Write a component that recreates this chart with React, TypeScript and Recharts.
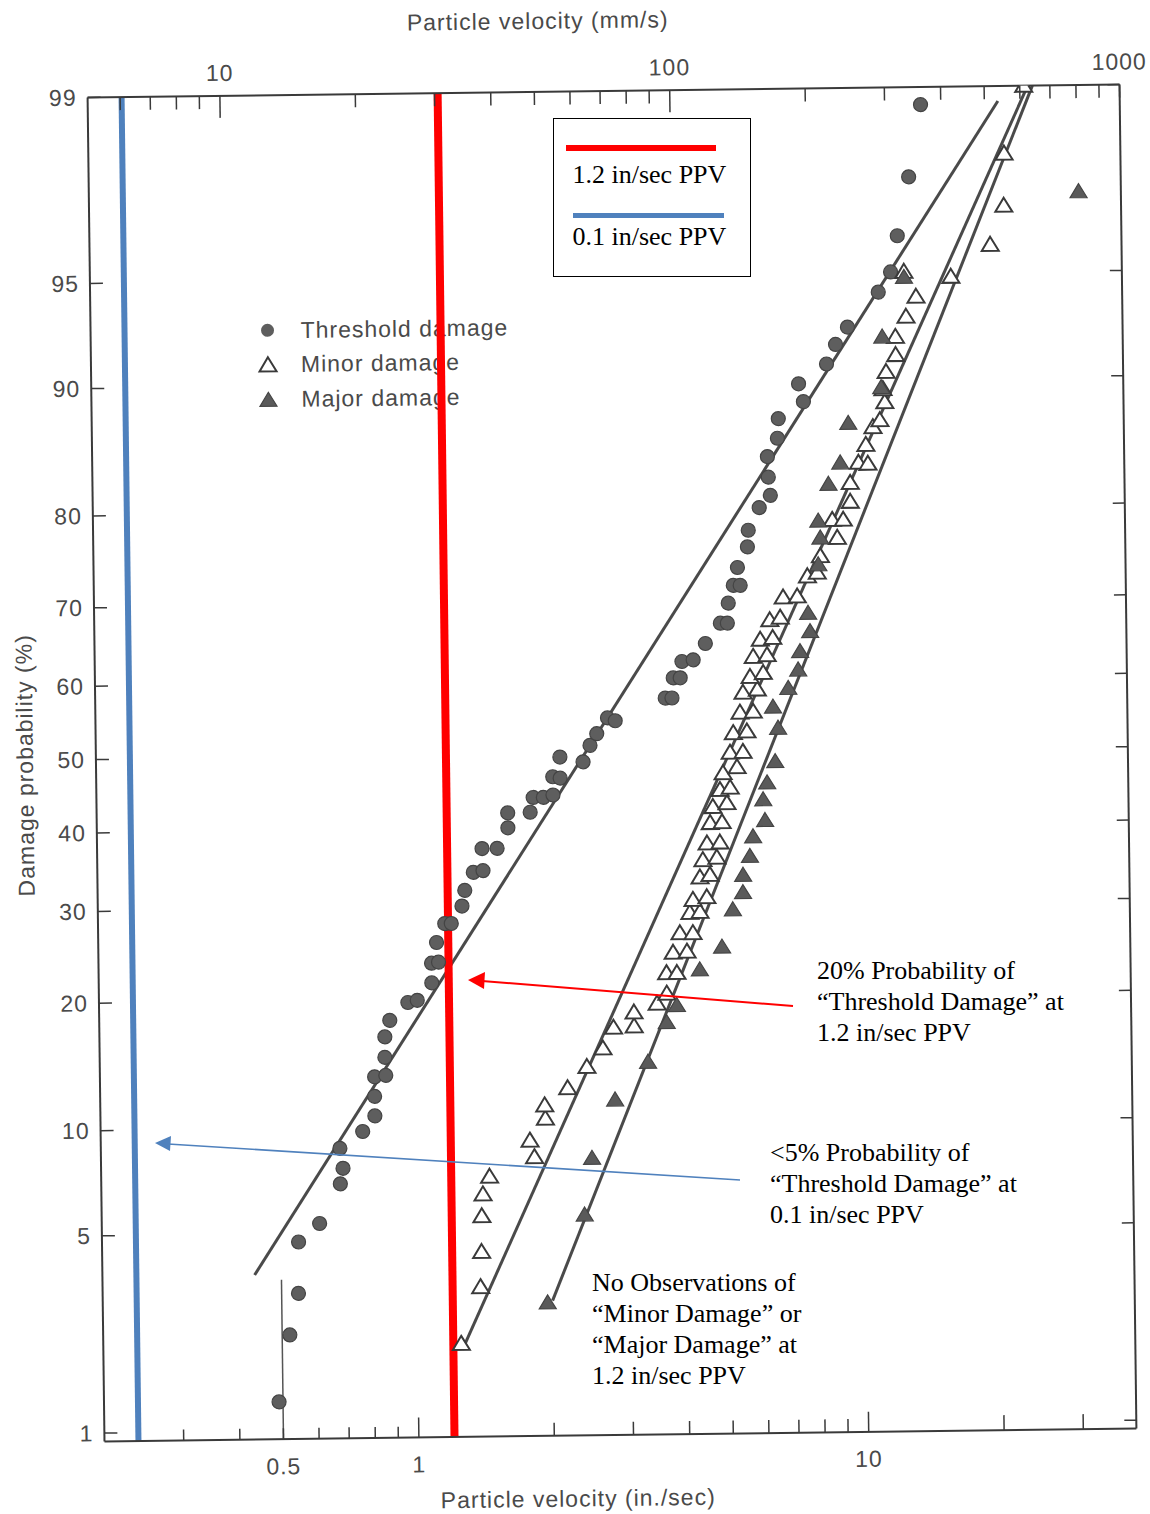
import React from "react";
import { ScatterChart, Scatter, XAxis, YAxis, ReferenceLine, Customized } from "recharts";

const INK = "#4a4a4a";
const FRAME = "#3a3a3a";
const SCAN_FONT = "'Liberation Sans', Arial, sans-serif";
const NOTE_FONT = "'Liberation Serif', 'Times New Roman', serif";
const RED = "#ff0000";
const BLUE = "#4f81bd";

// axis ticks
const inSecTicks = [0.3, 0.4, 0.5, 0.6, 0.7, 0.8, 0.9, 1, 2, 3, 4, 5, 6, 7, 8, 9, 10, 20, 30];
const inSecLabels = [0.5, 1, 10];
const mmTicks = [6, 7, 8, 9, 10, 20, 30, 40, 50, 60, 70, 80, 90, 100, 200, 300, 400, 500, 600, 700, 800, 900, 1000];
const mmLabels = [10, 100, 1000];
const probabilityTicks = [1, 5, 10, 20, 30, 40, 50, 60, 70, 80, 90, 95, 99];
// the printed frame edges (labelled 1 and 99 on the paper)
const probabilityFloor = 0.926;
const probabilityCeiling = 98.89;

// observations: [particle velocity in/sec, damage probability %]
const thresholdDamage: [number, number][] = [
  [0.49, 1.3], [0.52, 2.3], [0.545, 3.2], [0.547, 4.7], [0.61, 5.35], [0.68, 7.0], [0.69, 7.75],
  [0.68, 8.8], [0.765, 9.75], [0.815, 10.7], [0.815, 12.0], [0.816, 13.4], [0.864, 13.5],
  [0.861, 14.9], [0.862, 16.6], [0.885, 18.05], [0.972, 19.7], [1.02, 19.9], [1.1, 21.6],
  [1.1, 23.65], [1.14, 23.75], [1.13, 25.9], [1.18, 28.05], [1.22, 28.05], [1.29, 30.1],
  [1.31, 32.0], [1.37, 34.25], [1.44, 34.45], [1.435, 37.3], [1.55, 37.3], [1.64, 40.0],
  [1.64, 42.0], [1.84, 42.05], [1.87, 44.05], [1.97, 44.05], [2.07, 44.35], [2.07, 46.85],
  [2.15, 46.65], [2.15, 49.55], [2.42, 48.85], [2.51, 51.1], [2.6, 52.7], [2.75, 54.85],
  [2.86, 54.45], [3.7, 57.45], [3.83, 57.45], [3.86, 60.15], [4.0, 60.15], [4.04, 62.3],
  [4.28, 62.5], [4.56, 64.6], [4.93, 67.15], [5.11, 67.15], [5.14, 69.6], [5.28, 71.7],
  [5.47, 71.7], [5.4, 73.75], [5.69, 76.0], [5.72, 77.75], [6.06, 80.0], [6.42, 81.15],
  [6.36, 82.8], [6.34, 84.55], [6.68, 86.0], [6.72, 87.45], [7.65, 88.6], [7.47, 89.75],
  [8.63, 90.9], [9.05, 91.95], [9.63, 92.8], [11.3, 94.3], [12.05, 95.05], [12.5, 96.2],
  [13.3, 97.6], [14.2, 98.7],
];

const minorDamage: [number, number][] = [
  [1.25, 2.1], [1.385, 3.3], [1.395, 4.3], [1.4, 5.55], [1.41, 6.45], [1.46, 7.25],
  [1.84, 8.2], [1.8, 9.1], [1.95, 10.4], [1.945, 11.25], [2.19, 12.4], [2.42, 13.95],
  [2.63, 15.4], [2.78, 17.15], [3.09, 17.25], [3.09, 18.5], [3.48, 19.3], [3.66, 20.25],
  [3.66, 22.3], [3.86, 22.3], [3.79, 24.45], [4.07, 24.55], [3.93, 26.6], [4.2, 26.6],
  [4.14, 28.95], [4.36, 29.05], [4.21, 30.5], [4.52, 30.8], [4.37, 33.25], [4.6, 33.55],
  [4.44, 35.45], [4.77, 35.75], [4.54, 37.6], [4.85, 37.7], [4.62, 40.3], [4.91, 40.4],
  [4.69, 42.45], [5.04, 42.95], [4.87, 44.75], [5.13, 45.05], [4.95, 47.05], [5.32, 47.85],
  [5.14, 49.85], [5.49, 49.95], [5.23, 52.55], [5.61, 52.75], [5.42, 55.35], [5.8, 55.45],
  [5.51, 58.05], [5.93, 58.45], [5.72, 60.15], [6.12, 60.65], [5.82, 62.8], [6.25, 63.0],
  [6.04, 65.0], [6.44, 65.2], [6.35, 67.45], [6.7, 67.75], [6.81, 70.2], [7.32, 70.3],
  [7.72, 72.65], [8.12, 73.05], [8.26, 74.9], [9.02, 76.85], [8.8, 78.7], [9.31, 78.7],
  [9.66, 80.45], [9.67, 82.2], [10.1, 83.95], [10.6, 83.85], [10.5, 85.4], [10.9, 86.75],
  [11.3, 87.25], [11.6, 88.5], [11.5, 89.35], [11.7, 90.4], [12.3, 91.35], [12.3, 92.3],
  [13.0, 93.25], [13.7, 94.1], [12.9, 95.05], [16.4, 94.85], [20.1, 95.9], [21.6, 96.95],
  [21.7, 98.0], [24.1, 98.89],
];

const majorDamage: [number, number][] = [
  [1.95, 2.9], [2.37, 5.55], [2.47, 8.1], [2.79, 11.55], [3.31, 14.25], [3.65, 17.55],
  [3.85, 19.1], [4.34, 22.6], [4.87, 25.0], [5.16, 29.25], [5.44, 31.3], [5.45, 33.45],
  [5.65, 35.85], [5.75, 38.4], [6.12, 40.55], [6.07, 43.35], [6.2, 45.65], [6.47, 48.55],
  [6.58, 53.15], [6.42, 56.05], [6.95, 58.55], [7.32, 61.0], [7.4, 63.4], [7.8, 65.95],
  [7.73, 68.25], [8.17, 73.95], [8.27, 76.85], [8.19, 78.6], [8.65, 82.1], [9.2, 83.95],
  [9.61, 87.05], [11.4, 89.45], [11.5, 92.3], [12.9, 94.85], [31.7, 97.25],
];

// fitted lines, end points [in/sec, %]
const thresholdFit: [number, number][] = [[0.436, 3.7], [21.1, 98.73]];
const minorFit: [number, number][] = [[1.257, 2.0], [24.6, 98.89]];
const majorFit: [number, number][] = [[2.0, 2.95], [25.2, 98.89]];
const halfInchStem: [number, number][] = [[0.5, 0.926], [0.5, 3.56]];

// marker lines added on top of the scan
const redPpvLine = 1.2;
const bluePpvLine = 0.238; // where the "0.1 in/sec" line sits on the page

// inverse normal CDF (Acklam), used as the probability-paper scale
function probit(pct: number): number {
  const p = pct / 100;
  const a = [-39.69683028665376, 220.9460984245205, -275.9285104469687, 138.357751867269, -30.66479806614716, 2.506628277459239];
  const b = [-54.47609879822406, 161.5858368580409, -155.6989798598866, 66.80131188771972, -13.28068155288572];
  const c = [-0.007784894002430293, -0.3223964580411365, -2.400758277161838, -2.549732539343734, 4.374664141464968, 2.938163982698783];
  const d = [0.007784695709041462, 0.3224671290700398, 2.445134137142996, 3.754408661907416];
  const lo = 0.02425;
  if (p < lo) {
    const q = Math.sqrt(-2 * Math.log(p));
    return (((((c[0] * q + c[1]) * q + c[2]) * q + c[3]) * q + c[4]) * q + c[5]) / ((((d[0] * q + d[1]) * q + d[2]) * q + d[3]) * q + 1);
  }
  if (p > 1 - lo) {
    const q = Math.sqrt(-2 * Math.log(1 - p));
    return -(((((c[0] * q + c[1]) * q + c[2]) * q + c[3]) * q + c[4]) * q + c[5]) / ((((d[0] * q + d[1]) * q + d[2]) * q + d[3]) * q + 1);
  }
  const q = p - 0.5;
  const r = q * q;
  return ((((((a[0] * r + a[1]) * r + a[2]) * r + a[3]) * r + a[4]) * r + a[5]) * q) / (((((b[0] * r + b[1]) * r + b[2]) * r + b[3]) * r + b[4]) * r + 1);
}

const toPoints = (rows: [number, number][]) => rows.map(([v, p]) => ({ v, z: probit(p) }));
const toSegment = (rows: [number, number][]) => rows.map(([v, p]) => ({ x: v, y: probit(p) }));

const zDomain = [probit(probabilityFloor), probit(probabilityCeiling)];
// 1 and 99 are printed on the frame edges
const zTicks = probabilityTicks.map((p) => Math.min(Math.max(probit(p), zDomain[0]), zDomain[1]));
const labelFor = (z: number) => probabilityTicks[zTicks.findIndex((t) => Math.abs(t - z) < 1e-6)];

const tickText = {
  fontFamily: SCAN_FONT,
  fontSize: 23,
  fill: INK,
  letterSpacing: 1,
};

function BottomTick({ x, y, payload }: any) {
  const v = payload.value as number;
  const len = v === 1 || v === 10 ? 20 : v >= 20 ? 15 : v >= 2 ? 13 : 11;
  return (
    <g>
      <line x1={x} y1={y} x2={x} y2={y - len} stroke={FRAME} strokeWidth={1.5} />
      {inSecLabels.includes(v) && (
        <text x={x} y={y + 27} textAnchor="middle" dominantBaseline="central" {...tickText}>
          {v}
        </text>
      )}
    </g>
  );
}

function TopTick({ x, y, payload }: any) {
  const v = payload.value as number;
  const len = v === 10 || v === 100 ? 22 : 13;
  return (
    <g>
      <line x1={x} y1={y} x2={x} y2={y + len} stroke={FRAME} strokeWidth={1.5} />
      {mmLabels.includes(v) && (
        <text x={x} y={y - 23} textAnchor="middle" dominantBaseline="central" {...tickText}>
          {v}
        </text>
      )}
    </g>
  );
}

function LeftTick({ x, y, payload }: any) {
  return (
    <g>
      <line x1={x} y1={y} x2={x + 13} y2={y} stroke={FRAME} strokeWidth={1.5} />
      <text x={x - 11} y={y} textAnchor="end" dominantBaseline="central" {...tickText}>
        {labelFor(payload.value)}
      </text>
    </g>
  );
}

function RightTick({ x, y }: any) {
  return <line x1={x} y1={y} x2={x - 12} y2={y} stroke={FRAME} strokeWidth={1.5} />;
}

const Dot = ({ cx, cy }: any) => <circle cx={cx} cy={cy} r={7} fill="#5e5e5e" stroke="#444" strokeWidth={1.2} />;
const OpenTriangle = ({ cx, cy }: any) => (
  <path d={`M${cx},${cy - 8} L${cx + 8.5},${cy + 6} L${cx - 8.5},${cy + 6} Z`} fill="#fff" stroke="#3a3a3a" strokeWidth={2} />
);
const FilledTriangle = ({ cx, cy }: any) => (
  <path d={`M${cx},${cy - 8} L${cx + 8.5},${cy + 6} L${cx - 8.5},${cy + 6} Z`} fill="#5a5a5a" stroke="#444" strokeWidth={1.2} />
);

function SeriesKey() {
  const rows = [
    { y: 326, label: "Threshold damage", mark: <circle cx={273} cy={326} r={6.5} fill="#5e5e5e" /> },
    { y: 360, label: "Minor damage", mark: <OpenTriangle cx={273} cy={361} /> },
    { y: 395, label: "Major damage", mark: <FilledTriangle cx={273} cy={396} /> },
  ];
  return (
    <g>
      {rows.map((r) => (
        <g key={r.label}>
          {r.mark}
          <text x={306} y={r.y} dominantBaseline="central" {...tickText}>
            {r.label}
          </text>
        </g>
      ))}
    </g>
  );
}

const noteStyle: React.CSSProperties = {
  position: "absolute",
  fontFamily: NOTE_FONT,
  fontSize: 26,
  lineHeight: "31px",
  color: "#000",
  whiteSpace: "nowrap",
};

export default function App() {
  return (
    <div style={{ position: "absolute", left: 0, top: 0, width: 1150, height: 1514, background: "#fff", overflow: "hidden" }}>
      <div style={{ position: "absolute", left: 0, top: 0, transform: "rotate(-0.72deg)", transformOrigin: "612px 763px" }}>
        <ScatterChart width={1170} height={1514} margin={{ top: 0, right: 20, bottom: 0, left: 0 }}>
          <XAxis
            dataKey="v"
            type="number"
            scale="log"
            domain={[0.2, 39.37]}
            allowDataOverflow
            ticks={inSecTicks}
            interval={0}
            height={79}
            tickSize={0}
            tickMargin={0}
            tickLine={false}
            axisLine={{ stroke: FRAME, strokeWidth: 2 }}
            tick={(p: any) => <BottomTick {...p} />}
            label={() => (
              <text x={569} y={1498} textAnchor="middle" dominantBaseline="central" {...tickText}>
                Particle velocity (in./sec)
              </text>
            )}
          />
          <XAxis
            xAxisId="mm"
            orientation="top"
            dataKey="mm"
            type="number"
            scale="log"
            domain={[5.08, 1000]}
            allowDataOverflow
            ticks={mmTicks}
            interval={0}
            height={91}
            tickSize={0}
            tickMargin={0}
            tickLine={false}
            axisLine={{ stroke: FRAME, strokeWidth: 2 }}
            tick={(p: any) => <TopTick {...p} />}
            label={() => (
              <text x={547} y={20} textAnchor="middle" dominantBaseline="central" {...tickText}>
                Particle velocity (mm/s)
              </text>
            )}
          />
          <YAxis
            dataKey="z"
            type="number"
            domain={zDomain}
            allowDataOverflow
            ticks={zTicks}
            interval={0}
            width={96}
            tickSize={0}
            tickMargin={0}
            tickLine={false}
            axisLine={{ stroke: FRAME, strokeWidth: 2 }}
            tick={(p: any) => <LeftTick {...p} />}
            label={() => (
              <text x={25} y={758} textAnchor="middle" dominantBaseline="central" transform="rotate(-90 25 758)" {...tickText}>
                Damage probability (%)
              </text>
            )}
          />
          <YAxis
            yAxisId="right"
            orientation="right"
            dataKey="z"
            type="number"
            domain={zDomain}
            allowDataOverflow
            ticks={zTicks}
            interval={0}
            width={22}
            tickSize={0}
            tickMargin={0}
            tickLine={false}
            axisLine={{ stroke: FRAME, strokeWidth: 2 }}
            tick={(p: any) => <RightTick {...p} />}
          />

          <ReferenceLine segment={toSegment(thresholdFit)} stroke="#4a4a4a" strokeWidth={3} />
          <ReferenceLine segment={toSegment(minorFit)} stroke="#4a4a4a" strokeWidth={3} />
          <ReferenceLine segment={toSegment(majorFit)} stroke="#4a4a4a" strokeWidth={3} />
          <ReferenceLine segment={toSegment(halfInchStem)} stroke="#555" strokeWidth={1.5} />

          <Scatter xAxisId="mm" yAxisId="right" data={[]} isAnimationActive={false} />
          <Scatter name="Threshold damage" data={toPoints(thresholdDamage)} shape={Dot} isAnimationActive={false} />
          <Scatter name="Minor damage" data={toPoints(minorDamage)} shape={OpenTriangle} isAnimationActive={false} />
          <Scatter name="Major damage" data={toPoints(majorDamage)} shape={FilledTriangle} isAnimationActive={false} />

          <Customized component={SeriesKey} />

          <ReferenceLine x={bluePpvLine} stroke={BLUE} strokeWidth={6} />
          <ReferenceLine x={redPpvLine} stroke={RED} strokeWidth={8} />
        </ScatterChart>
      </div>

      <svg width={1150} height={1514} style={{ position: "absolute", left: 0, top: 0, pointerEvents: "none" }}>
        <line x1={793} y1={1006} x2={482} y2={981} stroke={RED} strokeWidth={2} />
        <polygon points="468,980 485,972 484,989" fill={RED} />
        <line x1={740} y1={1180} x2={168} y2={1144} stroke={BLUE} strokeWidth={1.6} />
        <polygon points="155,1143 171,1136 170,1151" fill={BLUE} />
      </svg>

      <div
        style={{
          position: "absolute",
          left: 553,
          top: 118,
          width: 198,
          height: 159,
          boxSizing: "border-box",
          border: "1.5px solid #000",
          background: "#fff",
        }}
      >
        <div style={{ position: "absolute", left: 11.5, top: 25.5, width: 150, height: 6, background: RED }} />
        <div style={{ ...noteStyle, left: 18.5, top: 40 }}>1.2 in/sec PPV</div>
        <div style={{ position: "absolute", left: 18.5, top: 93.5, width: 151, height: 5, background: BLUE }} />
        <div style={{ ...noteStyle, left: 18.5, top: 102 }}>0.1 in/sec PPV</div>
      </div>

      <div style={{ ...noteStyle, left: 817, top: 955 }}>
        20% Probability of
        <br />
        “Threshold Damage” at
        <br />
        1.2 in/sec PPV
      </div>
      <div style={{ ...noteStyle, left: 770, top: 1137 }}>
        {"<5% Probability of"}
        <br />
        “Threshold Damage” at
        <br />
        0.1 in/sec PPV
      </div>
      <div style={{ ...noteStyle, left: 592, top: 1267 }}>
        No Observations of
        <br />
        “Minor Damage” or
        <br />
        “Major Damage” at
        <br />
        1.2 in/sec PPV
      </div>
    </div>
  );
}
